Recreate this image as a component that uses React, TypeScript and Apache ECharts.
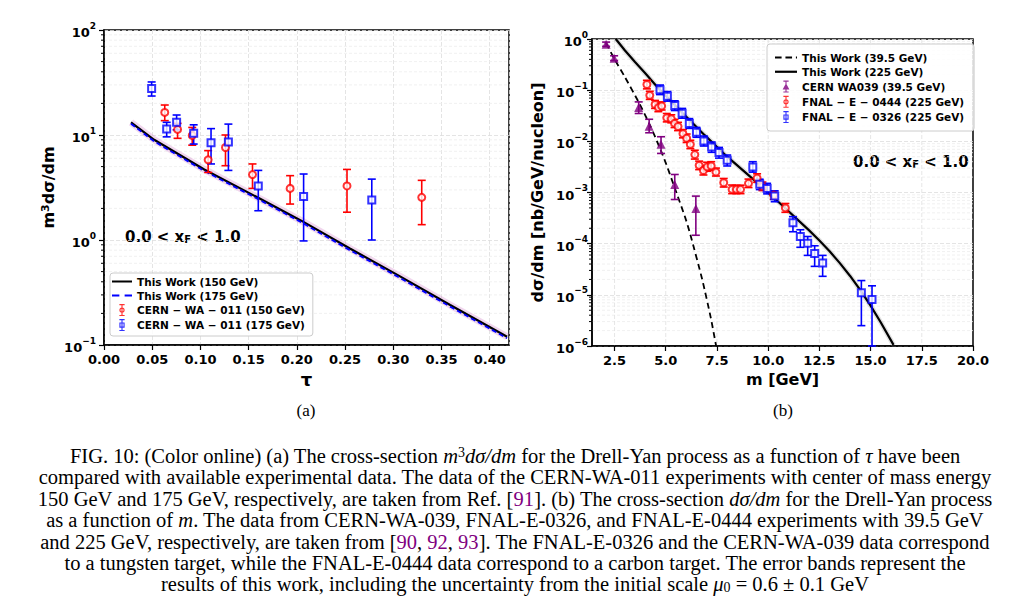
import React, { useEffect, useRef } from 'react';
import * as echarts from 'echarts';

// ---------------- Panel (a): m^3 dσ/dm vs τ ----------------
const tauCurve = [0.028, 0.052, 0.104, 0.159, 0.205, 0.255, 0.307, 0.359, 0.418];
const work150 = [13.2, 9.0, 4.7, 2.55, 1.52, 0.83, 0.45, 0.24, 0.12];
const work175 = [12.8, 8.7, 4.55, 2.47, 1.47, 0.8, 0.435, 0.232, 0.116];

const tau150 = [0.063, 0.0763, 0.0915, 0.108, 0.126, 0.154, 0.193, 0.252, 0.3295];
const val150 = [16.4, 11.3, 9.9, 5.8, 7.6, 4.2, 3.1, 3.27, 2.55];
const lo150 = [13.7, 9.3, 8.0, 4.4, 5.1, 3.1, 2.2, 1.84, 1.4];
const hi150 = [19.3, 12.9, 11.8, 7.1, 10.0, 5.3, 4.1, 4.7, 3.7];

const tau175 = [0.0494, 0.065, 0.0753, 0.093, 0.111, 0.129, 0.16, 0.207, 0.2777];
const val175 = [27.8, 11.4, 13.2, 10.4, 8.45, 8.6, 3.27, 2.6, 2.4];
const lo175 = [23.5, 9.6, 11.2, 8.2, 5.3, 4.6, 1.9, 0.98, 1.0];
const hi175 = [32, 13.2, 15.5, 12.5, 11.5, 12.7, 4.6, 4.25, 3.8];

const tauTicks = [0, 0.05, 0.1, 0.15, 0.2, 0.25, 0.3, 0.35, 0.4];

// ---------------- Panel (b): dσ/dm vs m ----------------
const m39 = [2.09, 2.48, 3.0, 3.7, 4.27, 4.68, 5.0, 5.45, 5.96, 6.2, 6.78, 7.2, 7.46];
const work39 = [0.83, 0.417, 0.182, 0.0562, 0.0191, 0.00794, 0.0038, 0.0012, 3.16e-4, 1.51e-4, 2.0e-5, 3.55e-6, 1.0e-6];

const m225 = [2.56, 3.0, 3.5, 4.0, 4.5, 5.0, 5.81, 6.9, 8.0, 9.29, 10.6, 12.0, 12.5, 13.0, 13.5, 14.0, 14.5, 15.0, 15.5, 16.12];
const work225 = [1.0, 0.603, 0.355, 0.214, 0.126, 0.0776, 0.0363, 0.0132, 0.00501, 0.00178, 6.03e-4, 1.82e-4, 1.15e-4, 7.08e-5, 4.17e-5, 2.34e-5, 1.23e-5, 6.17e-6, 2.88e-6, 1.05e-6];

const mWA039 = [2.09, 2.48, 3.68, 4.19, 4.77, 5.44, 6.47];
const valWA039 = [0.79, 0.42, 0.046, 0.0198, 0.0088, 0.00143, 0.000486];
const loWA039 = [0.72, 0.38, 0.035, 0.0147, 0.0058, 0.00073, 0.000146];
const hiWA039 = [0.87, 0.47, 0.059, 0.027, 0.0123, 0.00225, 0.00085];

const mE444 = [4.08, 4.22, 4.48, 4.64, 4.8, 5.05, 5.27, 5.43, 5.6, 5.84, 6.02, 6.2, 6.42, 6.63, 6.84, 7.02, 7.22, 7.45, 7.83, 8.24, 8.45, 8.65, 9.04, 9.46, 9.72, 10.27, 10.84];
const valE444 = [0.129, 0.0794, 0.0525, 0.0457, 0.049, 0.0288, 0.0275, 0.0224, 0.0195, 0.0141, 0.0115, 0.00871, 0.0055, 0.00339, 0.00269, 0.00316, 0.00331, 0.00251, 0.00155, 0.00115, 0.00115, 0.00115, 0.00151, 0.00191, 0.00132, 0.00089, 0.0005];
const hiE444 = [0.156, 0.095, 0.063, 0.055, 0.059, 0.035, 0.033, 0.027, 0.0235, 0.017, 0.0139, 0.0105, 0.0067, 0.0041, 0.0033, 0.0039, 0.004, 0.003, 0.00188, 0.0014, 0.00138, 0.00139, 0.00183, 0.00232, 0.0016, 0.00108, 0.00061];
const loE444 = [0.106, 0.066, 0.044, 0.038, 0.041, 0.024, 0.023, 0.0186, 0.0162, 0.0117, 0.0095, 0.0072, 0.0045, 0.0028, 0.0022, 0.0026, 0.0027, 0.0021, 0.00128, 0.00095, 0.00095, 0.00095, 0.00125, 0.00158, 0.00109, 0.00074, 0.00041];

const mE326 = [4.72, 5.08, 5.44, 5.8, 6.15, 6.5, 6.86, 7.24, 7.6, 8.0, 9.25, 9.59, 9.95, 10.32, 11.21, 11.57, 11.93, 12.27, 12.66, 14.55, 15.07];
const valE326 = [0.102, 0.0759, 0.0501, 0.0355, 0.0224, 0.0151, 0.0102, 0.00776, 0.00603, 0.00427, 0.00316, 0.00145, 0.0012, 0.00085, 0.000257, 0.000138, 0.000102, 6.46e-5, 4.17e-5, 1.1e-5, 8.1e-6];
const hiE326 = [0.126, 0.094, 0.062, 0.044, 0.0278, 0.0187, 0.0127, 0.0097, 0.0076, 0.0054, 0.004, 0.00182, 0.00151, 0.00108, 0.000337, 0.000187, 0.000138, 9.1e-5, 5.9e-5, 1.9e-5, 1.5e-5];
const loE326 = [0.082, 0.061, 0.04, 0.0283, 0.0179, 0.012, 0.0081, 0.0061, 0.0047, 0.0033, 0.0025, 0.00114, 0.00094, 0.00066, 0.000171, 8.5e-5, 5.9e-5, 3.6e-5, 2.3e-5, 2.5e-6, 1.0e-6];

const mTicks = [2.5, 5, 7.5, 10, 12.5, 15, 17.5, 20];

// ---------------- Caption ----------------
const captionLines = [
  'FIG. 10: (Color online) (a) The cross-section {i|m}{sup|3}{i|dσ/dm} for the Drell-Yan process as a function of {i|τ} have been',
  'compared with available experimental data. The data of the CERN-WA-011 experiments with center of mass energy',
  '150 GeV and 175 GeV, respectively, are taken from Ref. [{p|91}]. (b) The cross-section {i|dσ/dm} for the Drell-Yan process',
  'as a function of {i|m}. The data from CERN-WA-039, FNAL-E-0326, and FNAL-E-0444 experiments with 39.5 GeV',
  'and 225 GeV, respectively, are taken from [{p|90}, {p|92}, {p|93}]. The FNAL-E-0326 and the CERN-WA-039 data correspond',
  'to a tungsten target, while the FNAL-E-0444 data correspond to a carbon target. The error bands represent the',
  'results of this work, including the uncertainty from the initial scale {i|μ}{sub|0} = 0.6 ± 0.1 GeV',
];

const SANS = 'DejaVu Sans';
const SERIF = 'Liberation Serif';
const CAP_FS = 20.5;
const CAP_LH = 20;

const zip = (xs: number[], ys: number[]) => xs.map((x, i) => [x, ys[i]]);
const zip3 = (xs: number[], lo: number[], hi: number[]) => xs.map((x, i) => [x, lo[i], hi[i]]);

function supLabel(v: number) {
  const e = Math.round(Math.log10(v));
  const s = e < 0 ? '−' + Math.abs(e) : String(e);
  return `{b|10}{s|${s}}`;
}
const labelRich = {
  b: { fontFamily: SANS, fontWeight: 'bold', fontSize: 13, lineHeight: 18, verticalAlign: 'bottom', color: '#000' },
  s: { fontFamily: SANS, fontWeight: 'bold', fontSize: 9, lineHeight: 10, verticalAlign: 'top', color: '#000' },
};

function errRender(capHalf: number) {
  return (params: any, api: any) => {
    const x = api.value(0);
    const pLo = api.coord([x, api.value(1)]);
    const pHi = api.coord([x, api.value(2)]);
    const style = { stroke: api.visual('color'), lineWidth: 1.6, fill: 'none' };
    return {
      type: 'group',
      children: [
        { type: 'line', shape: { x1: pLo[0], y1: pLo[1], x2: pHi[0], y2: pHi[1] }, style },
        { type: 'line', shape: { x1: pLo[0] - capHalf, y1: pLo[1], x2: pLo[0] + capHalf, y2: pLo[1] }, style },
        { type: 'line', shape: { x1: pHi[0] - capHalf, y1: pHi[1], x2: pHi[0] + capHalf, y2: pHi[1] }, style },
      ],
    };
  };
}

// horizontal minor grid lines + minor ticks on log axes
function hMinorRender(params: any, api: any) {
  const cs = params.coordSys;
  const y = api.coord([api.value(0), api.value(1)])[1];
  return {
    type: 'group',
    children: [
      { type: 'line', shape: { x1: cs.x, y1: y, x2: cs.x + cs.width, y2: y }, style: { stroke: '#ececec', lineWidth: 0.8, lineDash: [3, 2] } },
      { type: 'line', shape: { x1: cs.x - 3, y1: y, x2: cs.x, y2: y }, style: { stroke: '#000', lineWidth: 1 } },
    ],
  };
}
function vGridRender(params: any, api: any) {
  const cs = params.coordSys;
  const x = api.coord([api.value(0), api.value(1)])[0];
  return {
    type: 'line',
    shape: { x1: x, y1: cs.y, x2: x, y2: cs.y + cs.height },
    style: { stroke: '#e0e0e0', lineWidth: 0.8, lineDash: [4, 2] },
  };
}

const minorVals = (exps: number[]) => exps.flatMap((e) => [2, 3, 4, 5, 6, 7, 8, 9].map((k) => k * Math.pow(10, e)));

const iconCircle =
  'path://M2.5 0L9.5 0L9.5 1.5L2.5 1.5Z M2.5 14.5L9.5 14.5L9.5 16L2.5 16Z M5.25 1L6.75 1L6.75 15L5.25 15Z M9.5 8A3.5 3.5 0 1 1 2.5 8A3.5 3.5 0 1 1 9.5 8Z M8 8A2 2 0 1 0 4 8A2 2 0 1 0 8 8Z';
const iconSquare =
  'path://M2.5 0L9.5 0L9.5 1.5L2.5 1.5Z M2.5 14.5L9.5 14.5L9.5 16L2.5 16Z M5.25 1L6.75 1L6.75 15L5.25 15Z M2.5 4.5L9.5 4.5L9.5 11.5L2.5 11.5Z M4 6L4 10L8 10L8 6Z';
const iconTri =
  'path://M2.5 0L9.5 0L9.5 1.5L2.5 1.5Z M2.5 14.5L9.5 14.5L9.5 16L2.5 16Z M5.25 1L6.75 1L6.75 15L5.25 15Z M6 3.5L10.5 12L1.5 12Z';
const iconSolid = 'path://M0 0L20 0L20 2L0 2Z';
const iconDashA = 'path://M0 0L7 0L7 2L0 2Z M12 0L19 0L19 2L12 2Z';
const iconDashB = 'path://M0 0L6 0L6 2L0 2Z M9.5 0L15.5 0L15.5 2L9.5 2Z M19 0L20 0L20 2L19 2Z';

const axisLineStyle = { lineStyle: { color: '#000', width: 1.5 } };
const tickStyle = { show: true, inside: false, length: 5, lineStyle: { color: '#000', width: 1.2 } };
const majorSplit = { show: true, lineStyle: { color: '#dddddd', width: 0.8, type: [4, 2] } };
const nameStyle = (fs: number) => ({
  fontFamily: SANS,
  fontWeight: 'bold',
  fontSize: fs,
  color: '#000',
  rich: { s: { fontFamily: SANS, fontWeight: 'bold', fontSize: 11, lineHeight: 10, verticalAlign: 'top', color: '#000' } },
});
const legendText = { fontFamily: SANS, fontWeight: 'bold', fontSize: 10.5, color: '#000' };

function buildOption() {
  const captionEls = captionLines.map((t, i) => ({
    type: 'text',
    x: 515,
    y: 456 + i * 21.4,
    style: {
      text: t,
      fontFamily: SERIF,
      fontSize: CAP_FS,
      lineHeight: CAP_LH,
      fill: '#000',
      align: 'center',
      verticalAlign: 'middle',
      textAlign: 'center',
      textVerticalAlign: 'middle',
      rich: {
        i: { fontFamily: SERIF, fontStyle: 'italic', fontSize: CAP_FS, fill: '#000', color: '#000', lineHeight: CAP_LH },
        p: { fontFamily: SERIF, fontSize: CAP_FS, fill: '#800080', color: '#800080', lineHeight: CAP_LH },
        sup: { fontFamily: SERIF, fontSize: 14, fill: '#000', color: '#000', padding: [0, 0, 7, 0] },
        sub: { fontFamily: SERIF, fontSize: 14, fill: '#000', color: '#000', padding: [7, 0, 0, 0] },
      },
    },
  }));

  const xfText = (x: number, y: number) => ({
    type: 'text',
    x,
    y,
    style: {
      text: '0.0 < x{sub|F} < 1.0',
      fontFamily: SANS,
      fontWeight: 'bold',
      fontSize: 15,
      fill: '#000',
      align: 'left',
      verticalAlign: 'middle',
      textAlign: 'left',
      textVerticalAlign: 'middle',
      rich: { sub: { fontFamily: SANS, fontWeight: 'bold', fontSize: 10, fill: '#000', color: '#000', lineHeight: 8, verticalAlign: 'bottom' } },
    },
  });

  const panelLabel = (x: number, t: string) => ({
    type: 'text',
    x,
    y: 410,
    style: { text: t, fontFamily: SERIF, fontSize: 17, fill: '#000', align: 'center', verticalAlign: 'middle', textAlign: 'center', textVerticalAlign: 'middle' },
  });

  return {
    animation: false,
    backgroundColor: '#fff',
    grid: [
      { left: 104, top: 30, width: 405, height: 315, show: true, borderColor: '#000', borderWidth: 1.5, backgroundColor: 'transparent' },
      { left: 592, top: 39, width: 381, height: 307, show: true, borderColor: '#000', borderWidth: 1.5, backgroundColor: 'transparent' },
    ],
    xAxis: [
      {
        gridIndex: 0,
        type: 'value',
        min: tauTicks[0],
        max: 0.42,
        interval: 0.05,
        axisLine: axisLineStyle,
        axisTick: tickStyle,
        axisLabel: { formatter: (v: number) => v.toFixed(2), fontFamily: SANS, fontWeight: 'bold', fontSize: 13, color: '#000', margin: 8, showMaxLabel: false },
        splitLine: majorSplit,
        name: 'τ',
        nameLocation: 'middle',
        nameGap: 23,
        nameTextStyle: nameStyle(18),
      },
      {
        gridIndex: 1,
        type: 'value',
        min: 1.4,
        max: 20,
        axisLine: axisLineStyle,
        axisTick: { ...tickStyle, customValues: mTicks },
        axisLabel: { customValues: mTicks, formatter: (v: number) => v.toFixed(1), fontFamily: SANS, fontWeight: 'bold', fontSize: 13, color: '#000', margin: 8 },
        splitLine: { show: false },
        name: 'm [GeV]',
        nameLocation: 'middle',
        nameGap: 22,
        nameTextStyle: nameStyle(16),
      },
    ],
    yAxis: [
      {
        gridIndex: 0,
        type: 'log',
        logBase: 10,
        min: 0.1,
        max: 100,
        axisLine: axisLineStyle,
        axisTick: tickStyle,
        axisLabel: { formatter: supLabel, rich: labelRich, margin: 8 },
        splitLine: majorSplit,
        name: 'm{s|3}dσ/dm',
        nameLocation: 'middle',
        nameGap: 48,
        nameRotate: 90,
        nameTextStyle: nameStyle(16),
      },
      {
        gridIndex: 1,
        type: 'log',
        logBase: 10,
        min: 1e-6,
        max: 1,
        axisLine: axisLineStyle,
        axisTick: tickStyle,
        axisLabel: { formatter: supLabel, rich: labelRich, margin: 4 },
        splitLine: majorSplit,
        name: 'dσ/dm [nb/GeV/nucleon]',
        nameLocation: 'middle',
        nameGap: 47,
        nameRotate: 90,
        nameTextStyle: nameStyle(16),
      },
    ],
    legend: [
      {
        left: 110,
        top: 273,
        orient: 'vertical',
        itemWidth: 20,
        itemHeight: 12,
        itemGap: 3,
        padding: [3, 8, 5, 2],
        backgroundColor: 'rgba(255,255,255,0.85)',
        borderColor: '#cccccc',
        borderWidth: 1,
        borderRadius: 3,
        selectedMode: false,
        textStyle: legendText,
        itemStyle: { borderWidth: 0 },
        data: [
          { name: 'This Work (150 GeV)', icon: iconSolid },
          { name: 'This Work (175 GeV)', icon: iconDashA },
          { name: 'CERN − WA − 011 (150 GeV)', icon: iconCircle },
          { name: 'CERN − WA − 011 (175 GeV)', icon: iconSquare },
        ],
      },
      {
        left: 767,
        top: 44,
        orient: 'vertical',
        itemWidth: 22,
        itemHeight: 12,
        itemGap: 3.25,
        padding: [8, 10, 8, 8],
        backgroundColor: 'rgba(255,255,255,0.85)',
        borderColor: '#cccccc',
        borderWidth: 1,
        borderRadius: 3,
        selectedMode: false,
        textStyle: legendText,
        itemStyle: { borderWidth: 0 },
        data: [
          { name: 'This Work (39.5 GeV)', icon: iconDashB },
          { name: 'This Work (225 GeV)', icon: iconSolid },
          { name: 'CERN WA039 (39.5 GeV)', icon: iconTri },
          { name: 'FNAL − E − 0444 (225 GeV)', icon: iconCircle },
          { name: 'FNAL − E − 0326 (225 GeV)', icon: iconSquare },
        ],
      },
    ],
    graphic: [xfText(125, 237), xfText(853, 162), panelLabel(306, '(a)'), panelLabel(783, '(b)'), ...captionEls],
    series: [
      // ---- grid helpers ----
      { type: 'custom', name: 'gridA', xAxisIndex: 0, yAxisIndex: 0, silent: true, z: 0, renderItem: hMinorRender, data: minorVals([-1, 0, 1]).map((v) => [0.2, v]) },
      { type: 'custom', name: 'gridB', xAxisIndex: 1, yAxisIndex: 1, silent: true, z: 0, renderItem: hMinorRender, data: minorVals([-6, -5, -4, -3, -2, -1]).map((v) => [10, v]) },
      { type: 'custom', name: 'gridBx', xAxisIndex: 1, yAxisIndex: 1, silent: true, z: 0, renderItem: vGridRender, data: mTicks.slice(0, -1).map((m) => [m, 1e-3]) },

      // ---- panel (a) ----
      { type: 'line', name: 'band a', xAxisIndex: 0, yAxisIndex: 0, data: zip(tauCurve, work150), symbol: 'none', silent: true, z: 1, lineStyle: { color: 'rgba(215,140,205,0.35)', width: 7 } },
      { type: 'line', name: 'This Work (150 GeV)', xAxisIndex: 0, yAxisIndex: 0, data: zip(tauCurve, work150), symbol: 'none', z: 3, itemStyle: { color: '#000' }, lineStyle: { color: '#000', width: 2.2 } },
      { type: 'line', name: 'This Work (175 GeV)', xAxisIndex: 0, yAxisIndex: 0, data: zip(tauCurve, work175), symbol: 'none', z: 4, itemStyle: { color: '#0000ff' }, lineStyle: { color: '#0000ff', width: 1.8, type: [5, 3] } },
      { type: 'custom', name: 'err150', xAxisIndex: 0, yAxisIndex: 0, z: 5, itemStyle: { color: '#ff0000' }, renderItem: errRender(4), data: zip3(tau150, lo150, hi150) },
      { type: 'custom', name: 'err175', xAxisIndex: 0, yAxisIndex: 0, z: 5, itemStyle: { color: '#0000ff' }, renderItem: errRender(4), data: zip3(tau175, lo175, hi175) },
      { type: 'scatter', name: 'CERN − WA − 011 (150 GeV)', xAxisIndex: 0, yAxisIndex: 0, z: 6, symbol: 'emptyCircle', symbolSize: 7, itemStyle: { color: '#ff0000', borderWidth: 1.5 }, data: zip(tau150, val150) },
      { type: 'scatter', name: 'CERN − WA − 011 (175 GeV)', xAxisIndex: 0, yAxisIndex: 0, z: 6, symbol: 'emptyRect', symbolSize: 7, itemStyle: { color: '#0000ff', borderWidth: 1.5 }, data: zip(tau175, val175) },

      // ---- panel (b) ----
      { type: 'line', name: 'band b', xAxisIndex: 1, yAxisIndex: 1, data: zip(m225, work225), symbol: 'none', silent: true, z: 1, lineStyle: { color: 'rgba(160,160,160,0.3)', width: 5 } },
      { type: 'line', name: 'This Work (39.5 GeV)', xAxisIndex: 1, yAxisIndex: 1, data: zip(m39, work39), symbol: 'none', smooth: 0.2, z: 3, itemStyle: { color: '#000' }, lineStyle: { color: '#000', width: 1.8, type: [6, 4] } },
      { type: 'line', name: 'This Work (225 GeV)', xAxisIndex: 1, yAxisIndex: 1, data: zip(m225, work225), symbol: 'none', z: 3, itemStyle: { color: '#000' }, lineStyle: { color: '#000', width: 2.2 } },
      { type: 'custom', name: 'errWA039', xAxisIndex: 1, yAxisIndex: 1, z: 5, itemStyle: { color: '#800080' }, renderItem: errRender(4), data: zip3(mWA039, loWA039, hiWA039) },
      { type: 'custom', name: 'errE444', xAxisIndex: 1, yAxisIndex: 1, z: 5, itemStyle: { color: '#ff0000' }, renderItem: errRender(4), data: zip3(mE444, loE444, hiE444) },
      { type: 'custom', name: 'errE326', xAxisIndex: 1, yAxisIndex: 1, z: 5, itemStyle: { color: '#0000ff' }, renderItem: errRender(4), data: zip3(mE326, loE326, hiE326) },
      { type: 'scatter', name: 'CERN WA039 (39.5 GeV)', xAxisIndex: 1, yAxisIndex: 1, z: 6, symbol: 'triangle', symbolSize: 9, itemStyle: { color: '#800080' }, data: zip(mWA039, valWA039) },
      { type: 'scatter', name: 'FNAL − E − 0444 (225 GeV)', xAxisIndex: 1, yAxisIndex: 1, z: 6, symbol: 'emptyCircle', symbolSize: 7, itemStyle: { color: '#ff0000', borderWidth: 1.5 }, data: zip(mE444, valE444) },
      { type: 'scatter', name: 'FNAL − E − 0326 (225 GeV)', xAxisIndex: 1, yAxisIndex: 1, z: 6, symbol: 'emptyRect', symbolSize: 7, itemStyle: { color: '#0000ff', borderWidth: 1.5 }, data: zip(mE326, valE326) },
    ],
  };
}

export default function App() {
  const ref = useRef<HTMLDivElement>(null);
  useEffect(() => {
    const chart = echarts.init(ref.current as HTMLDivElement, null, { renderer: 'svg' });
    chart.setOption(buildOption() as any);
    return () => chart.dispose();
  }, []);
  return <div ref={ref} style={{ position: 'absolute', left: 0, top: 0, width: 1024, height: 599, background: '#fff' }} />;
}
